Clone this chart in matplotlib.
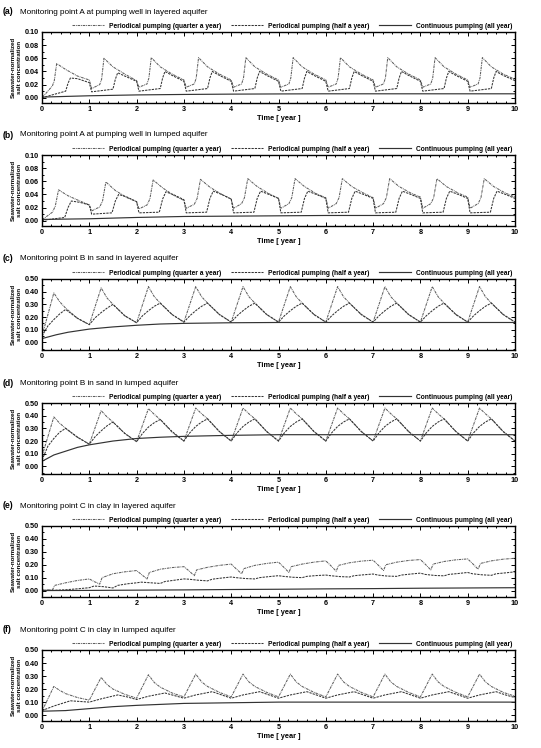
import matplotlib
matplotlib.use("Agg")
import matplotlib.pyplot as plt
from matplotlib.ticker import MultipleLocator, FormatStrFormatter
import numpy as np

plt.rcParams['font.family'] = ['Liberation Sans', 'DejaVu Sans']
plt.rcParams['font.weight'] = 'bold'

# ---- labels ----
panel_tags = ["(a)", "(b)", "(c)", "(d)", "(e)", "(f)"]
panel_titles = ["Monitoring point A at pumping well in layered aquifer",
                "Monitoring point A at pumping well in lumped aquifer",
                "Monitoring point B in sand in layered aquifer",
                "Monitoring point B in sand in lumped aquifer",
                "Monitoring point C in clay in layered aquifer",
                "Monitoring point C in clay in lumped aquifer"]
series_names = ["Periodical pumping (quarter a year)",
                "Periodical pumping (half a year)",
                "Continuous pumping (all year)"]

# ---- data ----
# periodic series: time in year given as (cycle + phase), one row per year
# (a) point A, layered
a_q_phase = [0.0, 0.05, 0.22, 0.26, 0.31, 0.5, 0.75]
a_q_rows = [[0.001, 0.004, 0.018, 0.026, 0.052, 0.043, 0.033],
            [0.027, 0.014, 0.020, 0.028, 0.060, 0.047, 0.036],
            [0.026, 0.016, 0.021, 0.030, 0.061, 0.047, 0.036],
            [0.027, 0.016, 0.021, 0.030, 0.061, 0.047, 0.036],
            [0.027, 0.016, 0.021, 0.030, 0.061, 0.047, 0.036],
            [0.027, 0.016, 0.021, 0.030, 0.061, 0.047, 0.036],
            [0.027, 0.016, 0.021, 0.030, 0.061, 0.047, 0.036],
            [0.027, 0.016, 0.021, 0.030, 0.061, 0.047, 0.036],
            [0.027, 0.016, 0.021, 0.030, 0.061, 0.047, 0.036],
            [0.027, 0.016, 0.021, 0.030, 0.061, 0.047, 0.036]]
a_q_end = 0.028
a_h_phase = [0.0, 0.05, 0.5, 0.55, 0.6, 0.75]
a_h_rows = [[0.000, 0.001, 0.010, 0.022, 0.030, 0.029],
            [0.023, 0.009, 0.013, 0.028, 0.038, 0.033],
            [0.025, 0.010, 0.014, 0.030, 0.040, 0.034],
            [0.025, 0.010, 0.014, 0.030, 0.040, 0.034],
            [0.025, 0.010, 0.014, 0.030, 0.040, 0.034],
            [0.025, 0.010, 0.014, 0.030, 0.040, 0.034],
            [0.025, 0.010, 0.014, 0.030, 0.040, 0.034],
            [0.025, 0.010, 0.014, 0.030, 0.040, 0.034],
            [0.025, 0.010, 0.014, 0.030, 0.040, 0.034],
            [0.025, 0.010, 0.014, 0.030, 0.040, 0.034]]
a_h_end = 0.026
a_c_t = [0, 1, 2, 3, 4, 5, 6, 7, 8, 9, 10]
a_c_v = [0.001, 0.003, 0.0043, 0.005, 0.0055, 0.0058, 0.006, 0.006, 0.006, 0.006, 0.006]

# (b) point A, lumped
b_q_phase = [0.0, 0.05, 0.22, 0.28, 0.35, 0.55, 0.8]
b_q_rows = [[0.002, 0.004, 0.013, 0.022, 0.047, 0.038, 0.030],
            [0.024, 0.015, 0.021, 0.030, 0.059, 0.046, 0.035],
            [0.029, 0.018, 0.024, 0.033, 0.062, 0.050, 0.038],
            [0.031, 0.019, 0.025, 0.034, 0.063, 0.051, 0.040],
            [0.033, 0.019, 0.026, 0.035, 0.064, 0.052, 0.041],
            [0.034, 0.019, 0.026, 0.035, 0.064, 0.052, 0.041],
            [0.035, 0.019, 0.026, 0.035, 0.064, 0.052, 0.042],
            [0.035, 0.019, 0.026, 0.035, 0.064, 0.052, 0.042],
            [0.036, 0.019, 0.026, 0.035, 0.064, 0.052, 0.042],
            [0.036, 0.019, 0.026, 0.035, 0.064, 0.052, 0.042]]
b_q_end = 0.036
b_h_phase = [0.0, 0.05, 0.48, 0.55, 0.62, 0.8]
b_h_rows = [[0.000, 0.001, 0.005, 0.020, 0.030, 0.028],
            [0.024, 0.010, 0.012, 0.030, 0.040, 0.036],
            [0.029, 0.012, 0.013, 0.033, 0.044, 0.039],
            [0.032, 0.012, 0.013, 0.034, 0.045, 0.040],
            [0.033, 0.012, 0.013, 0.034, 0.045, 0.040],
            [0.034, 0.012, 0.013, 0.034, 0.045, 0.040],
            [0.034, 0.012, 0.013, 0.034, 0.045, 0.040],
            [0.034, 0.012, 0.013, 0.034, 0.045, 0.040],
            [0.034, 0.012, 0.013, 0.034, 0.045, 0.040],
            [0.034, 0.012, 0.013, 0.034, 0.045, 0.040]]
b_h_end = 0.034
b_c_t = [0, 1, 2, 3, 4, 5, 6, 7, 8, 9, 10]
b_c_v = [0.002, 0.003, 0.005, 0.0065, 0.007, 0.0075, 0.008, 0.008, 0.008, 0.008, 0.008]

# (c) point B, layered
c_q_phase = [0.0, 0.25, 0.375, 0.5, 0.75]
c_q_rows = [[0.05, 0.39, 0.32, 0.27, 0.19],
            [0.14, 0.43, 0.35, 0.30, 0.21],
            [0.155, 0.44, 0.36, 0.31, 0.22],
            [0.16, 0.44, 0.36, 0.31, 0.22],
            [0.16, 0.44, 0.36, 0.31, 0.22],
            [0.16, 0.44, 0.36, 0.31, 0.22],
            [0.16, 0.44, 0.36, 0.31, 0.22],
            [0.16, 0.44, 0.36, 0.31, 0.22],
            [0.16, 0.44, 0.36, 0.31, 0.22],
            [0.16, 0.44, 0.36, 0.31, 0.22]]
c_q_end = 0.16
c_h_phase = [0.0, 0.125, 0.25, 0.375, 0.5, 0.75]
c_h_rows = [[0.05, 0.13, 0.18, 0.225, 0.26, 0.19],
            [0.14, 0.195, 0.235, 0.27, 0.30, 0.21],
            [0.155, 0.21, 0.25, 0.285, 0.31, 0.22],
            [0.16, 0.21, 0.25, 0.285, 0.31, 0.22],
            [0.16, 0.21, 0.25, 0.285, 0.31, 0.22],
            [0.16, 0.21, 0.25, 0.285, 0.31, 0.22],
            [0.16, 0.21, 0.25, 0.285, 0.31, 0.22],
            [0.16, 0.21, 0.25, 0.285, 0.31, 0.22],
            [0.16, 0.21, 0.25, 0.285, 0.31, 0.22],
            [0.16, 0.21, 0.25, 0.285, 0.31, 0.22]]
c_h_end = 0.16
c_c_t = [0, 0.1, 0.3, 0.55, 1, 1.5, 2, 2.5, 3, 4, 5, 10]
c_c_v = [0.03, 0.04, 0.06, 0.08, 0.105, 0.122, 0.135, 0.145, 0.15, 0.155, 0.157, 0.157]

# (d) point B, lumped
d_q_phase = [0.0, 0.25, 0.375, 0.5, 0.75]
d_q_rows = [[0.08, 0.39, 0.34, 0.30, 0.23],
            [0.175, 0.44, 0.39, 0.35, 0.26],
            [0.195, 0.455, 0.41, 0.37, 0.27],
            [0.20, 0.46, 0.415, 0.375, 0.275],
            [0.20, 0.46, 0.415, 0.375, 0.275],
            [0.20, 0.46, 0.415, 0.375, 0.275],
            [0.20, 0.46, 0.415, 0.375, 0.275],
            [0.20, 0.46, 0.415, 0.375, 0.275],
            [0.20, 0.46, 0.415, 0.375, 0.275],
            [0.20, 0.46, 0.415, 0.375, 0.275]]
d_q_end = 0.20
d_h_phase = [0.0, 0.125, 0.25, 0.375, 0.5, 0.75]
d_h_rows = [[0.05, 0.16, 0.22, 0.27, 0.30, 0.23],
            [0.175, 0.235, 0.28, 0.32, 0.35, 0.26],
            [0.195, 0.26, 0.31, 0.345, 0.37, 0.275],
            [0.20, 0.265, 0.315, 0.35, 0.375, 0.275],
            [0.20, 0.265, 0.315, 0.35, 0.375, 0.275],
            [0.20, 0.265, 0.315, 0.35, 0.375, 0.275],
            [0.20, 0.265, 0.315, 0.35, 0.375, 0.275],
            [0.20, 0.265, 0.315, 0.35, 0.375, 0.275],
            [0.20, 0.265, 0.315, 0.35, 0.375, 0.275],
            [0.20, 0.265, 0.315, 0.35, 0.375, 0.275]]
d_h_end = 0.20
d_c_t = [0, 0.25, 0.5, 0.75, 1, 1.5, 2, 2.5, 3, 4, 5, 10]
d_c_v = [0.04, 0.09, 0.12, 0.15, 0.17, 0.20, 0.22, 0.23, 0.237, 0.245, 0.25, 0.25]

# (e) point C, layered
e_q_phase = [0.0, 0.1, 0.22, 0.27, 0.5, 0.75]
e_q_rows = [[0.005, 0.005, 0.005, 0.04, 0.06, 0.078],
            [0.09, 0.07, 0.05, 0.10, 0.13, 0.145],
            [0.155, 0.125, 0.09, 0.14, 0.165, 0.178],
            [0.185, 0.155, 0.115, 0.16, 0.18, 0.195],
            [0.205, 0.17, 0.13, 0.17, 0.195, 0.21],
            [0.22, 0.185, 0.14, 0.185, 0.205, 0.22],
            [0.23, 0.195, 0.15, 0.195, 0.215, 0.228],
            [0.235, 0.20, 0.155, 0.20, 0.22, 0.233],
            [0.24, 0.205, 0.16, 0.205, 0.225, 0.238],
            [0.245, 0.21, 0.165, 0.21, 0.23, 0.243]]
e_q_end = 0.25
e_h_phase = [0.0, 0.1, 0.3, 0.5, 0.6, 0.8]
e_h_rows = [[0.000, 0.001, 0.003, 0.006, 0.009, 0.015],
            [0.022, 0.035, 0.030, 0.020, 0.040, 0.052],
            [0.060, 0.065, 0.060, 0.055, 0.070, 0.080],
            [0.090, 0.088, 0.080, 0.075, 0.088, 0.097],
            [0.105, 0.100, 0.093, 0.090, 0.100, 0.108],
            [0.115, 0.110, 0.103, 0.100, 0.110, 0.116],
            [0.120, 0.115, 0.108, 0.105, 0.115, 0.122],
            [0.128, 0.120, 0.112, 0.110, 0.120, 0.128],
            [0.135, 0.125, 0.117, 0.114, 0.125, 0.132],
            [0.140, 0.130, 0.122, 0.118, 0.130, 0.137]]
e_h_end = 0.145
e_c_t = [0, 1, 2, 3, 4, 5, 6, 7, 8, 9, 10]
e_c_v = [0.0, 0.001, 0.003, 0.005, 0.008, 0.010, 0.013, 0.015, 0.018, 0.020, 0.022]

# (f) point C, lumped
f_q_phase = [0.0, 0.25, 0.375, 0.5, 0.75]
f_q_rows = [[0.03, 0.22, 0.19, 0.165, 0.135],
            [0.115, 0.29, 0.235, 0.20, 0.16],
            [0.13, 0.31, 0.25, 0.215, 0.17],
            [0.14, 0.315, 0.255, 0.22, 0.175],
            [0.14, 0.315, 0.255, 0.22, 0.175],
            [0.14, 0.315, 0.255, 0.22, 0.175],
            [0.14, 0.315, 0.255, 0.22, 0.175],
            [0.14, 0.315, 0.255, 0.22, 0.175],
            [0.14, 0.315, 0.255, 0.22, 0.175],
            [0.14, 0.315, 0.255, 0.22, 0.175]]
f_q_end = 0.145
f_h_phase = [0.0, 0.25, 0.6, 0.8]
f_h_rows = [[0.035, 0.07, 0.11, 0.105],
            [0.10, 0.125, 0.155, 0.14],
            [0.12, 0.145, 0.17, 0.15],
            [0.13, 0.155, 0.18, 0.155],
            [0.13, 0.155, 0.18, 0.155],
            [0.13, 0.155, 0.18, 0.155],
            [0.13, 0.155, 0.18, 0.155],
            [0.13, 0.155, 0.18, 0.155],
            [0.13, 0.155, 0.18, 0.155],
            [0.13, 0.155, 0.18, 0.155]]
f_h_end = 0.135
f_c_t = [0, 0.5, 1, 1.5, 2, 3, 4, 5, 10]
f_c_v = [0.03, 0.035, 0.05, 0.065, 0.075, 0.09, 0.095, 0.10, 0.10]

y_tops = [0.10, 0.10, 0.50, 0.50, 0.50, 0.50]
y_bottoms = [-0.008, -0.008, -0.06, -0.06, -0.05, -0.045]
y_major = [0.02, 0.02, 0.10, 0.10, 0.10, 0.10]

panels = [(a_q_phase, a_q_rows, a_q_end, a_h_phase, a_h_rows, a_h_end, a_c_t, a_c_v),
          (b_q_phase, b_q_rows, b_q_end, b_h_phase, b_h_rows, b_h_end, b_c_t, b_c_v),
          (c_q_phase, c_q_rows, c_q_end, c_h_phase, c_h_rows, c_h_end, c_c_t, c_c_v),
          (d_q_phase, d_q_rows, d_q_end, d_h_phase, d_h_rows, d_h_end, d_c_t, d_c_v),
          (e_q_phase, e_q_rows, e_q_end, e_h_phase, e_h_rows, e_h_end, e_c_t, e_c_v),
          (f_q_phase, f_q_rows, f_q_end, f_h_phase, f_h_rows, f_h_end, f_c_t, f_c_v)]


def cycles(phase, rows, end):
    t, v = [], []
    for k, row in enumerate(rows):
        t += [k + p for p in phase]
        v += row
    t.append(len(rows))
    v.append(end)
    return np.array(t), np.array(v)


W, H = 541, 748
fig = plt.figure(figsize=(W / 100, H / 100), dpi=100)

ax_left, ax_right = 42, 515
ax_tops = [32, 155, 279, 403, 526, 650]
ax_h = 71

for i, (qp, qr, qe, hp, hr, he, ct, cv) in enumerate(panels):
    top = ax_tops[i]
    ax = fig.add_axes([ax_left / W, 1 - (top + ax_h) / H,
                       (ax_right - ax_left) / W, ax_h / H])
    tq, vq = cycles(qp, qr, qe)
    th, vh = cycles(hp, hr, he)
    ax.plot(tq, vq, color='#5e5e5e', lw=0.75, dashes=(2.5, 0.8, 0.8, 0.8),
            label=series_names[0])
    ax.plot(th, vh, color='#333333', lw=0.75, dashes=(2.2, 1.0),
            label=series_names[1])
    ax.plot(ct, cv, color='#333333', lw=0.85, label=series_names[2])

    ax.set_xlim(0, 10)
    ax.set_ylim(y_bottoms[i], y_tops[i])
    ax.xaxis.set_major_locator(MultipleLocator(1))
    ax.xaxis.set_minor_locator(MultipleLocator(0.2))
    ax.yaxis.set_major_locator(MultipleLocator(y_major[i]))
    ax.yaxis.set_minor_locator(MultipleLocator(y_major[i] / 2))
    ax.yaxis.set_major_formatter(FormatStrFormatter('%.2f'))
    ax.tick_params(which='both', direction='in', top=True, right=True,
                   labelsize=5.2, width=0.7, pad=2)
    ax.tick_params(which='major', length=3)
    ax.tick_params(which='minor', length=1.6)
    for sp in ax.spines.values():
        sp.set_linewidth(1.0)

    ax.set_xlabel("Time [ year ]", fontsize=5.3, fontweight='bold', labelpad=1.5)
    ax.set_ylabel("Seawater-normalized\nsalt concentration", fontsize=4.4,
                  fontweight='bold', labelpad=2.5, linespacing=1.1)

    ax.legend(loc='lower right', bbox_to_anchor=(1.0, 1.0), ncol=3,
              frameon=False, fontsize=4.75, handlelength=4.8,
              handletextpad=0.8, columnspacing=1.5, borderpad=0.25,
              borderaxespad=0.1)

    ty = 1 - (top - 20) / H
    fig.text(3 / W, ty, panel_tags[i], fontsize=6.3, fontweight='bold',
             va='center', ha='left')
    fig.text(20 / W, ty, panel_titles[i], fontsize=5.9, fontweight='normal',
             va='center', ha='left')

fig.savefig("out.png", dpi=100)
